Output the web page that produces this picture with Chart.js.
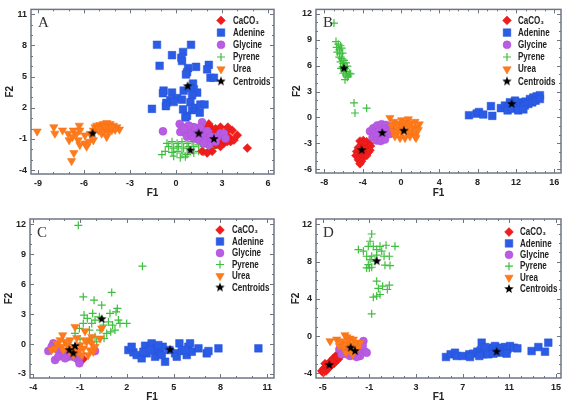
<!DOCTYPE html>
<html>
<head>
<meta charset="utf-8">
<script src="https://cdn.jsdelivr.net/npm/chart.js"></script>
<style>
  html, body { margin: 0; padding: 0; background: #fff; }
  #wrap { position: relative; width: 567px; height: 405px; overflow: hidden; }
  canvas { position: absolute; }
</style>
</head>
<body>
<div id="wrap">
  <canvas id="chartA" width="285" height="200" style="left:0px;top:0px;width:285px;height:200px"></canvas>
  <canvas id="chartB" width="282" height="200" style="left:285px;top:0px;width:282px;height:200px"></canvas>
  <canvas id="chartC" width="285" height="205" style="left:0px;top:200px;width:285px;height:205px"></canvas>
  <canvas id="chartD" width="282" height="205" style="left:285px;top:200px;width:282px;height:205px"></canvas>
</div>
<script>
// series names (legend order)
const seriesNames = ["CaCO\u2083", "Adenine", "Glycine", "Pyrene", "Urea", "Centroids"];

// ---- panel A ----
const aXTicks = [-9, -6, -3, 0, 3, 6];
const aYTicks = [-4, -1, 2, 5, 8, 11];
const caco3A = [[1.92,0.14],[2.25,0.14],[2.58,-0.02],[2.79,-0.17],[2.47,-0.48],[3.01,-0.64],[3.23,-0.33],[3.45,-0.8],[3.56,-1.26],[3.12,-1.42],[2.9,-1.73],[2.58,-1.57],[2.36,-2.19],[2.69,-1.26],[3.34,-1.26],[3.78,-1.11],[3.67,-0.17],[3.38,0.14],[2.14,0.45],[4.0,-0.64],[4.65,-1.88],[1.7,-2.19],[2.03,-2.35],[2.9,0.14],[3.12,-1.11]];
const adenineA = [[-1.24,8.06],[0.98,8.06],[0.46,7.37],[-0.26,7.06],[0.35,6.81],[0.39,6.5],[-1.07,6.04],[0.79,5.82],[1.31,5.94],[2.14,6.13],[2.03,5.7],[2.25,4.89],[2.47,4.89],[0.72,5.42],[0.65,5.2],[1.11,4.33],[1.16,3.77],[0.5,3.65],[-0.26,3.46],[-0.81,3.65],[-0.85,3.4],[1.38,3.46],[1.05,3.2],[0.07,2.93],[0.39,2.78],[-0.37,2.71],[-0.63,2.47],[-0.15,2.55],[0.94,2.53],[-1.57,1.9],[-0.66,2.16],[0.46,1.84],[1.05,1.78],[1.27,2.0],[1.59,2.31],[1.86,2.31],[1.55,1.53],[0.72,1.22],[0.61,1.07],[0.9,3.9]];
const glycineA = [[-0.85,-0.27],[0.24,0.45],[0.39,0.14],[0.28,-0.33],[0.61,-0.42],[0.94,-0.24],[0.72,-0.8],[1.05,-0.64],[1.16,-0.95],[1.38,-0.48],[1.55,-0.17],[1.7,0.6],[1.59,0.14],[1.81,-0.55],[2.03,-0.24],[1.48,-1.11],[1.92,-1.11],[2.25,-0.73],[2.36,-1.11],[2.69,-0.8],[2.9,-0.48],[3.12,-0.48],[3.23,-0.95],[2.58,-1.26],[2.14,-1.57],[1.81,-1.42],[1.16,0.14],[0.83,0.29],[0.5,-0.02]];
const pyreneA = [[-0.59,-1.42],[-0.26,-1.26],[0.07,-1.42],[0.39,-1.26],[0.72,-1.42],[1.05,-1.26],[-0.48,-1.73],[-0.15,-1.88],[0.17,-1.73],[0.5,-1.88],[0.83,-1.73],[1.16,-1.73],[1.48,-1.57],[1.81,-1.73],[-0.7,-2.19],[-0.26,-2.29],[0.07,-2.19],[0.39,-2.35],[0.72,-2.5],[1.16,-2.35],[1.48,-2.19],[1.81,-2.29],[2.14,-2.04],[0.28,-2.81],[0.61,-2.72],[-0.15,-2.66],[2.47,-1.88],[2.69,-1.57],[-0.92,-2.5]];
const ureaA = [[-9.06,-0.27],[-7.97,0.14],[-7.9,-0.48],[-7.4,-0.17],[-7.03,-0.48],[-6.97,-1.11],[-6.7,-0.17],[-6.75,-0.8],[-6.48,-0.48],[-6.31,0.29],[-6.27,-0.17],[-6.38,-1.11],[-6.27,-1.57],[-5.94,-1.42],[-5.83,-1.73],[-5.66,-1.26],[-5.5,-0.64],[-5.39,-0.17],[-5.28,0.14],[-5.17,0.29],[-4.96,0.35],[-4.74,0.45],[-4.52,0.54],[-4.3,0.45],[-4.08,0.29],[-3.86,0.14],[-3.69,-0.08],[-4.63,-0.17],[-4.41,-0.33],[-4.85,-0.48],[-4.52,-0.8],[-4.19,-0.17],[-5.06,-0.17],[-5.39,-1.11],[-6.66,-2.35],[-6.81,-3.12],[-4.85,0.14],[-4.63,0.2],[-4.41,0.2],[-3.97,-0.1],[-5.06,0.0],[-4.19,0.14],[-5.6,-0.5],[-5.94,-0.65]];
const centroidsA = [[2.47,-1.0],[0.76,4.08],[1.48,-0.48],[0.94,-2.1],[-5.44,-0.48]];

// ---- panel B ----
const bXTicks = [-8, -4, 0, 4, 8, 12, 16];
const bYTicks = [-6, -3, 0, 3, 6, 9, 12];
const caco3B = [[-4.28,-2.72],[-3.93,-2.65],[-3.58,-2.8],[-3.3,-3.02],[-4.1,-3.1],[-3.76,-3.17],[-3.41,-3.4],[-3.17,-3.28],[-4.45,-3.47],[-4.0,-3.54],[-3.58,-3.69],[-3.23,-3.77],[-4.63,-3.92],[-4.21,-4.03],[-3.76,-4.14],[-3.41,-4.03],[-4.7,-4.4],[-4.35,-4.51],[-3.93,-4.59],[-3.58,-4.4],[-4.45,-4.89],[-4.1,-5.04],[-4.28,-5.34]];
const adenineB = [[7.1,0.26],[7.9,0.45],[8.14,0.63],[8.59,0.34],[9.39,1.31],[9.53,0.19],[10.43,1.08],[10.85,1.38],[11.2,1.19],[11.55,1.57],[11.9,1.31],[12.24,1.75],[12.66,1.57],[13.01,1.83],[13.46,2.13],[13.81,2.31],[14.16,2.43],[14.5,2.57],[11.13,0.82],[11.55,1.01],[12.17,1.08],[12.52,1.19],[12.94,1.38],[13.29,1.57],[13.7,1.75],[14.05,1.94],[14.5,2.13],[12.24,0.82],[12.77,0.93],[11.9,1.94],[11.37,1.75]];
const glycineB = [[-3.23,-1.6],[-2.89,-1.23],[-2.47,-0.93],[-2.02,-0.78],[-1.57,-0.86],[-1.15,-1.04],[-2.71,-1.79],[-2.26,-1.53],[-1.77,-1.42],[-1.32,-1.6],[-0.97,-1.31],[-2.96,-2.28],[-2.47,-2.16],[-2.02,-2.35],[-1.57,-2.05],[-1.15,-1.9],[-2.54,-2.65],[-2.12,-2.72],[-1.67,-2.54]];
const pyreneB = [[-6.99,10.9],[-6.78,8.77],[-6.54,8.47],[-6.3,8.28],[-6.71,8.1],[-6.43,7.8],[-6.19,8.02],[-6.64,7.54],[-6.37,7.35],[-6.09,7.43],[-6.43,6.98],[-6.19,6.79],[-5.95,6.6],[-6.3,6.42],[-6.02,6.23],[-5.74,6.31],[-6.09,5.86],[-5.84,5.67],[-5.6,5.93],[-5.95,5.49],[-5.67,5.3],[-5.39,5.11],[-5.74,4.93],[-5.5,4.81],[-5.25,5.04],[-5.84,4.37],[-5.6,4.66],[-6.02,5.11],[-6.26,5.67],[-4.9,1.68],[-4.8,0.52],[-3.58,1.08]];
const ureaB = [[-1.15,-0.04],[-0.73,-0.49],[-0.28,-0.67],[0.07,-0.3],[0.42,-0.56],[0.77,-0.19],[1.01,-0.67],[1.46,-0.49],[1.91,-0.78],[1.63,-1.23],[1.22,-1.16],[0.77,-1.04],[0.24,-0.93],[-0.1,-1.16],[-0.52,-1.04],[-0.97,-0.93],[-0.8,-1.6],[-0.38,-1.68],[0.07,-1.79],[0.52,-1.6],[0.94,-1.68],[1.46,-1.79],[1.81,-1.42],[-0.1,-2.35],[0.42,-2.35],[0.94,-2.16],[1.46,-2.16],[1.57,-2.35],[-0.63,-2.16],[0.17,-1.42]];
const centroidsB = [[-4.1,-3.77],[11.55,1.57],[-1.95,-1.79],[-5.95,5.67],[0.31,-1.53]];

// ---- panel C ----
const cXTicks = [-4, -1, 2, 5, 8, 11];
const cYTicks = [-3, 0, 3, 6, 9, 12];
const caco3C = [[-1.21,-1.5],[-1.0,-1.63],[-0.79,-1.5],[-1.11,-1.1],[-1.32,-1.27],[-1.43,-0.93],[-1.2,-0.7]];
const adenineC = [[2.1,-0.6],[2.42,-0.83],[2.31,-0.27],[2.63,-1.1],[2.95,-1.43],[3.17,-0.17],[3.27,-0.93],[3.59,0.07],[3.7,-0.6],[3.91,-0.43],[3.81,-1.27],[4.13,-0.77],[4.3,-0.27],[4.45,-1.77],[4.24,-1.1],[4.73,-0.6],[5.09,-0.93],[5.37,0.07],[5.2,-1.27],[5.52,-0.7],[5.84,-1.1],[5.94,-0.27],[6.05,0.07],[6.16,-0.77],[6.59,-0.43],[7.12,-0.93],[7.23,-0.7],[7.87,-0.43],[10.43,-0.43],[3.06,-0.77],[3.49,-0.6],[4.02,-0.1],[5.73,-0.6]];
const glycineC = [[-3.03,-0.7],[-2.71,0.07],[-2.6,-1.6],[-2.75,-0.43],[-2.39,-0.6],[-2.18,-0.93],[-2.07,-1.1],[-1.85,-0.77],[-1.75,-1.27],[-2.39,-1.27],[-1.43,-1.27],[-1.21,-1.43],[-1.04,-1.93],[-1.0,-1.27],[-0.04,-0.7],[-1.64,-1.1],[-1.96,-1.43],[-2.82,-0.27]];
const pyreneC = [[-1.11,11.9],[3.0,7.8],[-0.79,4.73],[-0.1,4.4],[1.03,5.17],[0.39,3.9],[1.39,3.57],[1.31,3.23],[0.92,3.07],[-0.74,2.9],[-0.19,3.07],[0.24,2.73],[-0.04,2.4],[-0.25,2.07],[-0.79,2.07],[-1.32,1.07],[-1.04,1.57],[-0.4,1.4],[0.28,1.4],[0.5,1.9],[0.82,2.23],[1.09,1.9],[1.46,2.4],[1.56,2.07],[1.24,1.4],[0.97,1.23],[0.71,1.07],[-0.04,0.73],[0.07,0.23],[0.54,0.57],[-0.4,0.4],[1.99,2.07],[-0.53,2.57],[-1.0,0.5]];
const ureaC = [[-1.32,1.73],[-0.68,1.3],[-2.11,0.9],[-1.64,0.4],[-1.21,0.63],[-1.96,0.23],[-2.5,0.07],[-2.18,-0.27],[-1.81,-0.1],[-1.0,-0.1],[-0.57,0.23],[-0.79,-0.43],[-0.25,0.73],[-0.25,0.07],[-0.36,-0.6],[0.28,0.57],[0.39,1.57],[-2.82,-0.6],[-1.47,-0.43],[-1.11,-0.77],[-2.07,-0.6],[-1.64,-0.77],[-0.89,-1.1],[-1.43,-1.1],[-0.68,0.4],[-0.15,-0.77],[-0.47,-1.1],[-0.04,-0.27],[-2.28,0.4],[-2.6,-0.43]];
const centroidsC = [[-1.43,-0.93],[4.77,-0.57],[-1.68,-0.6],[0.39,2.5],[-1.32,-0.2]];

// ---- panel D ----
const dXTicks = [-5, -1, 3, 7, 11, 15];
const dYTicks = [-4, 0, 4, 8, 12];
const caco3D = [[-5.09,-3.75],[-4.89,-3.46],[-4.66,-3.32],[-4.8,-2.96],[-4.51,-3.04],[-4.37,-2.75],[-4.23,-2.68],[-4.09,-2.39],[-3.94,-2.25],[-3.8,-2.04],[-3.57,-1.96],[-3.46,-2.14],[-3.66,-2.5],[-3.86,-2.68],[-4.03,-2.96],[-4.31,-3.21],[-4.51,-3.46],[-4.71,-3.75],[-4.94,-3.93],[-4.37,-2.86],[-4.14,-2.61],[-3.74,-2.25],[-3.51,-1.89]];
const adenineD = [[5.57,-2.25],[5.97,-1.96],[6.34,-1.79],[6.49,-2.14],[7.0,-2.14],[7.57,-1.96],[7.91,-1.89],[8.26,-1.68],[8.54,-1.54],[8.63,-0.71],[8.77,-1.96],[9.06,-1.61],[9.34,-1.43],[9.57,-1.25],[9.77,-1.07],[9.97,-1.43],[10.34,-1.25],[10.63,-1.18],[10.83,-1.43],[11.06,-1.07],[11.4,-1.25],[11.69,-1.32],[9.2,-1.96],[9.63,-1.89],[10.2,-1.79],[10.77,-1.89],[8.43,-2.14],[12.91,-1.61],[13.49,-1.18],[14.06,-1.68],[14.34,-0.71],[7.63,-2.25],[8.91,-1.18]];
const glycineD = [[-3.57,-1.43],[-3.23,-1.61],[-2.89,-1.96],[-2.66,-2.14],[-2.23,-1.96],[-1.94,-1.61],[-1.66,-1.43],[-1.51,-0.54],[-1.37,-1.68],[-1.23,-1.79],[-1.8,-2.14],[-2.09,-2.25],[-2.43,-1.79],[-2.89,-1.43],[-1.57,-1.07],[-3.37,-1.96]];
const pyreneD = [[-0.8,10.96],[-0.94,10.18],[-1.09,9.64],[-0.66,9.64],[-1.94,9.29],[-1.51,9.11],[-0.37,9.29],[-0.09,9.64],[0.43,9.75],[0.06,9.11],[1.2,9.64],[-1.23,8.57],[-0.8,8.57],[-0.37,8.68],[0.26,8.57],[0.71,8.57],[-0.51,8.04],[-1.09,7.68],[-1.23,7.32],[-0.8,7.39],[-0.94,8.21],[0.34,7.61],[0.77,7.57],[-0.37,5.89],[-0.23,5.11],[0.14,5.36],[0.71,5.46],[0.54,5.0],[-0.09,4.46],[-0.37,4.29],[-0.66,4.18],[-0.8,2.39],[-1.0,7.32]];
const ureaD = [[-4.37,-0.54],[-3.8,-0.36],[-3.37,-0.71],[-3.09,0.11],[-2.94,-0.11],[-2.66,-0.25],[-2.37,-0.36],[-3.57,-1.07],[-3.23,-1.18],[-2.89,-0.89],[-2.51,-0.96],[-2.09,-0.71],[-1.8,-0.71],[-2.23,-1.43],[-2.66,-1.61],[-2.43,-1.96],[-3.0,-1.79],[-1.94,-1.25],[-3.51,-0.54],[-2.8,-0.54]];
const centroidsD = [[-4.43,-3.11],[9.91,-1.68],[-2.23,-1.61],[-0.37,8.04],[-2.6,-1.25]];

// ---- styling ----
const frameColor = "#6f7683";
const textColor = "#222";
const tickFont = { family: "'Liberation Sans', Arial, sans-serif", size: 9, weight: "bold" };
const titleFont = { family: "'Liberation Sans', Arial, sans-serif", size: 10, weight: "bold" };
const legendFont = "bold 10px 'Liberation Sans Narrow', 'Liberation Sans', sans-serif";

function starImage(r) {
  const c = document.createElement("canvas");
  const s = Math.ceil(r * 2) + 2;
  c.width = s; c.height = s;
  const g = c.getContext("2d");
  g.fillStyle = "#000";
  g.beginPath();
  for (let k = 0; k < 10; k++) {
    const rr = k % 2 ? r * 0.42 : r;
    const ang = -Math.PI / 2 + k * Math.PI / 5;
    g.lineTo(s / 2 + rr * Math.cos(ang), s / 2 + rr * Math.sin(ang));
  }
  g.closePath();
  g.fill();
  return c;
}
const star = starImage(5);

const markers = [
  { pointStyle: "rectRot", pointRadius: 4.4, pointRotation: 0, backgroundColor: "#f01d1d", borderColor: "#e01515", borderWidth: 0.5, order: 3 },
  { pointStyle: "rect", pointRadius: 5.4, pointRotation: 0, backgroundColor: "#2c5ce6", borderColor: "#2452d8", borderWidth: 0.5, order: 4 },
  { pointStyle: "circle", pointRadius: 4, pointRotation: 0, backgroundColor: "#b85ce4", borderColor: "#ad50da", borderWidth: 0.5, order: 2 },
  { pointStyle: "cross", pointRadius: 4, pointRotation: 0, backgroundColor: "#3fbf3f", borderColor: "#3fbf3f", borderWidth: 1.2, order: 5 },
  { pointStyle: "triangle", pointRadius: 4.8, pointRotation: 180, backgroundColor: "#ff7a1a", borderColor: "#f57012", borderWidth: 0.5, order: 1 },
  { pointStyle: star, pointRadius: 5, pointRotation: 0, backgroundColor: "#000", borderColor: "#000", borderWidth: 0, order: 0 }
];

const deco = {
  id: "deco",
  afterDraw(chart, args, o) {
    const { ctx, chartArea: a, scales } = chart;
    const x = scales.x, y = scales.y;
    ctx.save();
    ctx.strokeStyle = frameColor;
    ctx.lineWidth = 1;
    ctx.beginPath();
    for (let v = Math.ceil(x.min); v <= x.max; v++) {
      const px = Math.round(x.getPixelForValue(v)) + 0.5;
      const len = o.xTicks.includes(v) ? 4 : 2;
      ctx.moveTo(px, a.bottom); ctx.lineTo(px, a.bottom - len);
      ctx.moveTo(px, a.top); ctx.lineTo(px, a.top + len);
    }
    for (let v = Math.ceil(y.min); v <= y.max; v++) {
      const py = Math.round(y.getPixelForValue(v)) + 0.5;
      const len = o.yTicks.includes(v) ? 4 : 2;
      ctx.moveTo(a.left, py); ctx.lineTo(a.left + len, py);
      ctx.moveTo(a.right, py); ctx.lineTo(a.right - len, py);
    }
    ctx.stroke();
    ctx.lineWidth = 1.5;
    ctx.strokeRect(a.left, a.top, a.right - a.left, a.bottom - a.top);

    ctx.fillStyle = "#333";
    ctx.font = "15px 'Liberation Serif', 'DejaVu Serif', serif";
    ctx.textBaseline = "alphabetic";
    ctx.textAlign = "left";
    ctx.fillText(o.letter, a.left + 7, a.top + 18);

    // legend text is set narrow: squeeze it if no narrow face was found
    ctx.font = legendFont;
    const wide = ctx.measureText("Centroids").width;
    const squeeze = wide > 39 ? 37.5 / wide : 1;

    const drawPt = Chart.helpers && Chart.helpers.drawPoint;
    chart.data.datasets.forEach((ds, i) => {
      const ly = a.top + o.legTop + i * o.legGap;
      const mx = a.right + o.legMarker;
      ctx.fillStyle = ds.backgroundColor;
      ctx.strokeStyle = ds.borderColor;
      ctx.lineWidth = ds.borderWidth;
      if (drawPt) {
        drawPt(ctx, { pointStyle: ds.pointStyle, rotation: ds.pointRotation, radius: ds.pointRadius, borderWidth: ds.borderWidth }, mx, ly);
      } else {
        ctx.fillRect(mx - 3.5, ly - 3.5, 7, 7);
      }
      ctx.save();
      ctx.fillStyle = textColor;
      ctx.font = legendFont;
      ctx.textBaseline = "middle";
      ctx.translate(a.right + o.legText, ly + 0.5);
      ctx.scale(squeeze, 1);
      ctx.fillText(ds.label, 0, 0);
      ctx.restore();
    });
    ctx.restore();
  }
};

function makePanel(id, p, series) {
  const datasets = series.map((pts, i) => Object.assign({
    label: seriesNames[i],
    data: pts.map(([vx, vy]) => ({ x: vx, y: vy })),
    pointHoverRadius: markers[i].pointRadius
  }, markers[i]));

  new Chart(document.getElementById(id), {
    type: "scatter",
    data: { datasets },
    options: {
      responsive: false,
      animation: false,
      devicePixelRatio: 1,
      events: [],
      layout: { padding: { left: 0, top: p.plot[1], right: p.w - p.plot[2], bottom: 0 } },
      plugins: {
        legend: { display: false },
        tooltip: { enabled: false },
        deco: { letter: p.letter, xTicks: p.xTicks, yTicks: p.yTicks, legTop: p.legTop, legGap: p.legGap, legMarker: p.legMarker, legText: p.legText }
      },
      scales: {
        x: {
          type: "linear", min: p.xr[0], max: p.xr[1],
          afterBuildTicks: s => { s.ticks = p.xTicks.map(v => ({ value: v })); },
          afterFit: s => { s.height = p.h - p.plot[3]; },
          grid: { display: false, drawTicks: false },
          border: { display: false },
          ticks: { font: tickFont, color: textColor, padding: 4, maxRotation: 0 },
          title: { display: true, text: "F1", font: titleFont, color: textColor, padding: { top: 0, bottom: p.xTitlePad } }
        },
        y: {
          type: "linear", min: p.yr[0], max: p.yr[1],
          afterBuildTicks: s => { s.ticks = p.yTicks.map(v => ({ value: v })); },
          afterFit: s => { s.width = p.plot[0]; },
          grid: { display: false, drawTicks: false },
          border: { display: false },
          ticks: { font: tickFont, color: textColor, padding: 4 },
          title: { display: true, text: "F2", font: titleFont, color: textColor, padding: { top: p.yTitlePad, bottom: 0 } }
        }
      }
    },
    plugins: [deco]
  });
}

makePanel("chartA", {
  w: 285, h: 200, plot: [31, 4, 274, 174], xr: [-9.457, 6.391], yr: [-4.373, 11.466],
  xTicks: aXTicks, yTicks: aYTicks, letter: "A", xTitlePad: 1, yTitlePad: 4,
  legTop: 11, legGap: 12.2, legMarker: -53, legText: -41
}, [caco3A, adenineA, glycineA, pyreneA, ureaA, centroidsA]);

makePanel("chartB", {
  w: 282, h: 200, plot: [31, 4, 276, 173], xr: [-8.866, 16.70], yr: [-6.41, 12.48],
  xTicks: bXTicks, yTicks: bYTicks, letter: "B", xTitlePad: 1, yTitlePad: 6,
  legTop: 11, legGap: 12.2, legMarker: -54, legText: -43
}, [caco3B, adenineB, glycineB, pyreneB, ureaB, centroidsB]);

makePanel("chartC", {
  w: 285, h: 205, plot: [30, 19, 274, 178], xr: [-4.205, 11.43], yr: [-3.40, 12.53],
  xTicks: cXTicks, yTicks: cYTicks, letter: "C", xTitlePad: 2, yTitlePad: 3,
  legTop: 11, legGap: 11.5, legMarker: -54, legText: -42
}, [caco3C, adenineC, glycineC, pyreneC, ureaC, centroidsC]);

makePanel("chartD", {
  w: 282, h: 205, plot: [31, 19, 276, 178], xr: [-5.574, 15.43], yr: [-4.505, 12.57],
  xTicks: dXTicks, yTicks: dYTicks, letter: "D", xTitlePad: 2, yTitlePad: 5,
  legTop: 13, legGap: 11.4, legMarker: -52, legText: -41
}, [caco3D, adenineD, glycineD, pyreneD, ureaD, centroidsD]);
</script>
</body>
</html>
